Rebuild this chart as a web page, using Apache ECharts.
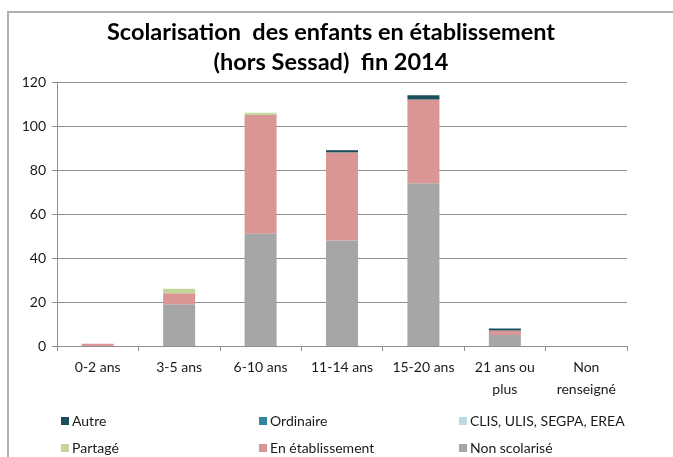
<!DOCTYPE html>
<html>
<head>
<meta charset="utf-8">
<script src="https://cdn.jsdelivr.net/npm/echarts@6/dist/echarts.min.js"></script>
<style>
  html, body { margin: 0; padding: 0; background: #fff; }
  #chart { width: 673px; height: 457px; }
</style>
</head>
<body>
<div id="chart"></div>
<script>
// categories on the x axis
const categories = ['0-2 ans', '3-5 ans', '6-10 ans', '11-14 ans', '15-20 ans', '21 ans ou\nplus', 'Non\nrenseigné'];

// stacked values, bottom to top
const nonScolarise    = [0, 19, 51, 48, 74, 5, 0];
const enEtablissement = [1, 5, 54, 40, 38, 2, 0];
const partage         = [0, 2, 1, 0, 0, 0, 0];
const clis            = [0, 0, 0, 0, 0, 0, 0];
const ordinaire       = [0, 0, 0, 0, 0, 0, 0];
const autre           = [0, 0, 0, 1, 2, 1, 0];

const yTicks = [0, 20, 40, 60, 80, 100, 120];

const font = 'Lato, "Open Sans", sans-serif';
const gridColor = '#8f8f8f';
const textColor = '#1a1a1a';

const seriesDefs = [
  { name: 'Non scolarisé', data: nonScolarise, color: '#a6a6a6' },
  { name: 'En établissement', data: enEtablissement, color: '#d99694' },
  { name: 'Partagé', data: partage, color: '#c3d69b' },
  { name: 'CLIS, ULIS, SEGPA, EREA', data: clis, color: '#b7dee8' },
  { name: 'Ordinaire', data: ordinaire, color: '#31859c' },
  { name: 'Autre', data: autre, color: '#1d4e5e' }
];

// legend laid out like the original: 3 columns, 2 rows
const legendPos = {
  'Autre': [61, 414], 'Ordinaire': [259, 414], 'CLIS, ULIS, SEGPA, EREA': [459, 414],
  'Partagé': [61, 441], 'En établissement': [259, 441], 'Non scolarisé': [459, 441]
};

var chart = echarts.init(document.getElementById('chart'), null, { renderer: 'canvas' });

var option = {
  animation: false,
  title: {
    text: 'Scolarisation  des enfants en établissement\n(hors Sessad)  fin 2014',
    left: 326,
    textAlign: 'center',
    top: 12,
    textStyle: {
      fontFamily: font,
      fontWeight: 'bold',
      fontSize: 23.5,
      lineHeight: 30,
      color: '#000'
    }
  },
  legend: Object.keys(legendPos).map(function (n) {
    return {
      data: [n],
      left: legendPos[n][0],
      top: legendPos[n][1],
      itemWidth: 8,
      itemHeight: 8,
      icon: 'rect',
      padding: 0,
      itemGap: 0,
      selectedMode: false,
      textStyle: { fontFamily: font, fontSize: 14, color: textColor, padding: [0, 0, 0, -2] }
    };
  }),
  graphic: [{
    type: 'polyline',
    shape: { points: [[8, 460], [8, 12], [680, 12]] },
    style: { stroke: '#b0b0b0', lineWidth: 2, fill: null }
  }],
  grid: { left: 57, right: 46, top: 82, bottom: 111, containLabel: false },
  xAxis: {
    type: 'category',
    data: categories,
    axisLine: { lineStyle: { color: gridColor, width: 1 } },
    axisTick: { show: true, length: 5, lineStyle: { color: gridColor } },
    axisLabel: {
      fontFamily: font, fontSize: 14, color: textColor, margin: 10, lineHeight: 22, interval: 0
    }
  },
  yAxis: {
    type: 'value',
    min: 0,
    max: 120,
    interval: 20,
    axisLine: { show: true, lineStyle: { color: gridColor, width: 1 } },
    axisTick: { show: true, length: 5, inside: false, lineStyle: { color: gridColor } },
    splitLine: { lineStyle: { color: gridColor, width: 1 } },
    axisLabel: {
      fontFamily: font, fontSize: 14, color: textColor, margin: 11,
      formatter: function (v) { return yTicks.indexOf(v) >= 0 ? String(v) : ''; }
    }
  },
  series: seriesDefs.map(function (s) {
    return {
      name: s.name,
      type: 'bar',
      stack: 'total',
      barWidth: 32,
      data: s.data,
      itemStyle: { color: s.color },
      emphasis: { disabled: true }
    };
  })
};

chart.setOption(option);
</script>
</body>
</html>
